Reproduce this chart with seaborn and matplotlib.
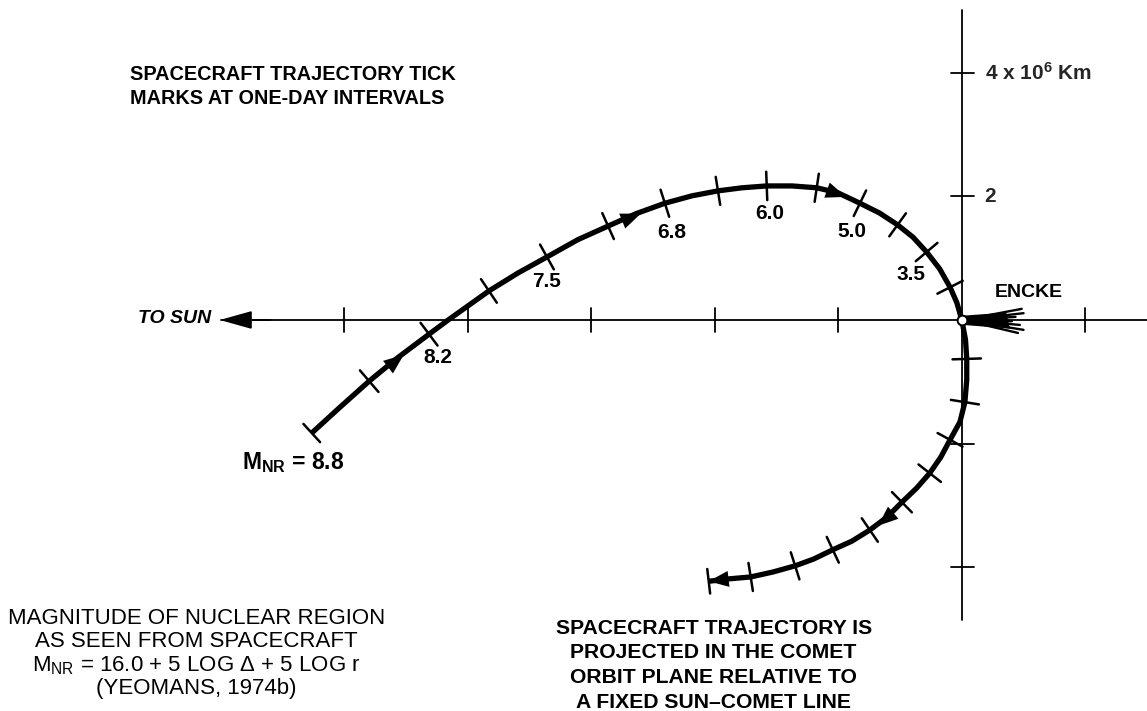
import numpy as np
import seaborn as sns
import matplotlib.pyplot as plt

# spacecraft path in the comet orbit plane, units of 10^6 km, Encke at (0, 0)
traj_x = [-10.53, -10.07, -9.60, -9.15, -8.63, -8.32, -7.66, -7.19, -6.72, -6.22,
          -5.73, -5.28, -4.81, -4.37, -3.95, -3.56, -3.16, -2.75, -2.35, -2.01,
          -1.65, -1.33, -1.04, -0.79, -0.57, -0.36, -0.19, -0.08, 0.00, 0.06,
          0.08, 0.08, 0.05, -0.03, -0.19, -0.34, -0.52, -0.73, -0.97, -1.21,
          -1.49, -1.78, -2.09, -2.40, -2.70, -3.06, -3.42, -3.76, -4.10]
traj_y = [-1.83, -1.41, -0.99, -0.62, -0.23, 0.00, 0.47, 0.76, 1.02, 1.30,
          1.52, 1.72, 1.89, 2.01, 2.09, 2.14, 2.17, 2.17, 2.14, 2.06,
          1.89, 1.73, 1.54, 1.34, 1.10, 0.83, 0.53, 0.28, 0.00, -0.32,
          -0.63, -0.97, -1.33, -1.65, -1.94, -2.22, -2.48, -2.72, -2.95, -3.19,
          -3.40, -3.58, -3.72, -3.87, -3.98, -4.08, -4.16, -4.19, -4.23]

# one-day tick marks
tick_x = [-9.60, -8.63, -7.66, -6.72, -5.73, -4.81, -3.95, -3.16, -2.35, -1.65, -1.04,
          -0.57, -0.19, 0.08, 0.05, -0.19, -0.52, -0.97, -1.49, -2.09, -2.70, -3.42]
tick_y = [-0.99, -0.23, 0.47, 1.02, 1.52, 1.89, 2.09, 2.17, 2.14, 1.89, 1.54,
          1.10, 0.53, -0.63, -1.33, -1.94, -2.48, -2.95, -3.40, -3.72, -3.98, -4.16]

# magnitude of nuclear region at some days
mag_labels = ['8.2', '7.5', '6.8', '6.0', '5.0', '3.5']
mag_x = [-8.49, -6.72, -4.70, -3.11, -1.78, -0.83]
mag_y = [-0.60, 0.62, 1.41, 1.72, 1.44, 0.73]

# direction arrows along the path
arrow_x = [-9.15, -5.33, -2.01, -1.25]
arrow_y = [-0.65, 1.67, 2.04, -3.24]

# scale marks on the sun-comet axes
xticks = [-10, -8, -6, -4, -2, 2]
yticks = [4, 2, -2, -4]
ytick_text = {4: r'4 x 10$^{\mathregular{6}}$ Km', 2: '2'}

# comet tail streaks
tail_x = [0.97, 1.00, 0.87, 0.81, 0.94, 1.00, 0.91]
tail_y = [0.18, 0.11, 0.05, -0.02, -0.08, -0.16, -0.21]

top_note = ['SPACECRAFT TRAJECTORY TICK', 'MARKS AT ONE-DAY INTERVALS']
left_note = ['MAGNITUDE OF NUCLEAR REGION', 'AS SEEN FROM SPACECRAFT',
             r'M$_{\mathregular{NR}}$ = 16.0 + 5 LOG $\mathregular{\Delta}$ + 5 LOG r',
             '(YEOMANS, 1974b)']
right_note = ['SPACECRAFT TRAJECTORY IS', 'PROJECTED IN THE COMET',
              'ORBIT PLANE RELATIVE TO', 'A FIXED SUN\u2013COMET LINE']

sns.set_style('white')
plt.rcParams['font.family'] = ['Liberation Sans', 'DejaVu Sans']
plt.rcParams['mathtext.fontset'] = 'custom'
plt.rcParams['mathtext.rm'] = 'Liberation Sans'
plt.rcParams['mathtext.it'] = 'Liberation Sans'

fig = plt.figure(figsize=(11.47, 7.11), dpi=100)
ax = fig.add_axes([0, 0, 1, 1])
ax.set_xlim(-15.58, 3.0)
ax.set_ylim(-6.33, 5.18)
ax.axis('off')

tx = np.array(traj_x)
ty = np.array(traj_y)


def tangent(px, py):
    i = int(np.argmin((tx - px) ** 2 + (ty - py) ** 2))
    a, b = max(i - 1, 0), min(i + 1, len(tx) - 1)
    d = np.array([tx[b] - tx[a], ty[b] - ty[a]])
    return d / np.hypot(*d)


# axes through the comet
ax.plot([-12.0, 3.0], [0, 0], color='black', lw=1.3)
ax.plot([0, 0], [-4.86, 5.02], color='black', lw=1.3)
ax.annotate('', xy=(-12.02, 0), xytext=(-11.2, 0),
            arrowprops=dict(arrowstyle='-|>,head_length=1.0,head_width=0.28',
                            mutation_scale=20, color='black', lw=1.3,
                            shrinkA=0, shrinkB=0))
for x in xticks:
    ax.plot([x, x], [-0.19, 0.19], color='black', lw=1.3)
for y in yticks:
    ax.plot([-0.18, 0.2], [y, y], color='black', lw=1.3)
    if y in ytick_text:
        ax.text(0.37, y, ytick_text[y], fontsize=15, fontweight='bold',
                ha='left', va='center')

# trajectory
sns.lineplot(x=traj_x, y=traj_y, sort=False, estimator=None, ax=ax,
             color='black', lw=3.8, solid_capstyle='butt')

for x, y in zip(tick_x, tick_y):
    d = tangent(x, y)
    n = np.array([-d[1], d[0]]) * 0.23
    ax.plot([x - n[0], x + n[0]], [y - n[1], y + n[1]], color='black', lw=1.8)

# end bars
for i in (0, -1):
    d = tangent(traj_x[i], traj_y[i])
    n = np.array([-d[1], d[0]]) * 0.2
    ax.plot([traj_x[i] - n[0], traj_x[i] + n[0]],
            [traj_y[i] - n[1], traj_y[i] + n[1]], color='black', lw=1.8)

arrow_style = dict(arrowstyle='-|>,head_length=0.8,head_width=0.32',
                   mutation_scale=18, color='black', lw=0, shrinkA=0, shrinkB=0)
for x, y in zip(arrow_x, arrow_y):
    d = tangent(x, y)
    ax.annotate('', xy=(x + 0.14 * d[0], y + 0.14 * d[1]),
                xytext=(x - 0.05 * d[0], y - 0.05 * d[1]), arrowprops=arrow_style)
d = tangent(traj_x[-1], traj_y[-1])
ax.annotate('', xy=(traj_x[-1], traj_y[-1]),
            xytext=(traj_x[-1] - 0.25 * d[0], traj_y[-1] - 0.25 * d[1]),
            arrowprops=arrow_style)

# comet Encke
ax.fill([0.02, 0.72, 0.78, 0.02], [0.07, 0.12, -0.14, -0.08], color='black', lw=0)
for x, y in zip(tail_x, tail_y):
    ax.plot([0.02, x], [0, y], color='black', lw=1.7)
ax.plot([0], [0], marker='o', ms=7, mfc='white', mec='black', mew=1.4)

# labels
bold = dict(fontweight='bold', color='black')
for lab, x, y in zip(mag_labels, mag_x, mag_y):
    ax.text(x, y, lab, fontsize=15, ha='center', va='center', **bold)
ax.text(1.09, 0.45, 'ENCKE', fontsize=14, ha='center', va='center', **bold)
ax.text(-12.16, 0.02, 'TO SUN', fontsize=14, ha='right', va='center',
        style='italic', **bold)
ax.text(-11.66, -2.30, r'M$_{\mathregular{NR}}$ = 8.8', fontsize=16.5,
        ha='left', va='center', **bold)

for k, line in enumerate(top_note):
    ax.text(-13.47, 3.98 - k * 0.40, line, fontsize=14.3, ha='left', va='center', **bold)
for k, line in enumerate(left_note):
    ax.text(-12.40, -4.83 - k * 0.38, line, fontsize=16, ha='center',
            va='center', color='black')
for k, line in enumerate(right_note):
    ax.text(-4.02, -4.99 - k * 0.40, line, fontsize=15.2, ha='center', va='center', **bold)

fig.savefig('out.png', dpi=100)
